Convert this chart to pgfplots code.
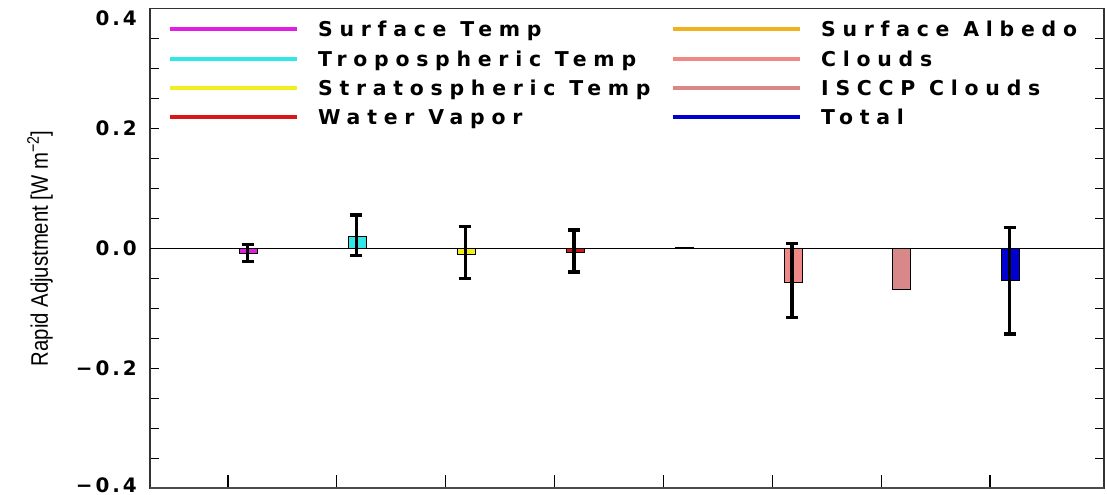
\documentclass[border=0pt]{standalone}
\usepackage{pgfplots}
\pgfplotsset{compat=1.18}
\usepackage{fontspec}
\usepackage{graphicx}
\setmainfont{DejaVu Sans}
\newfontfamily\legfont[LetterSpace=33]{DejaVu Sans}
\newfontfamily\tickfont[LetterSpace=15]{DejaVu Sans}
\newfontfamily\labfont{Liberation Sans}
\definecolor{cmag}{RGB}{224,32,224}
\definecolor{ccyan}{RGB}{48,232,232}
\definecolor{cyel}{RGB}{240,240,32}
\definecolor{cred}{RGB}{216,24,24}
\definecolor{corange}{RGB}{240,176,32}
\definecolor{cclouds}{RGB}{240,136,136}
\definecolor{cisccp}{RGB}{216,136,136}
\definecolor{ctotal}{RGB}{0,0,208}
\begin{document}
\begin{tikzpicture}
\begin{axis}[
  scale only axis, width=954bp, height=480bp,
  xmin=0.2835, xmax=9.047, ymin=-0.4, ymax=0.4,
  xtick={1,2,3,4,5,6,7,8}, xticklabels={}, xtick pos=left,
  xtick style={/pgfplots/major tick length=13bp},
  ytick={-0.4,-0.2,0,0.2,0.4},
  yticklabels={\raisebox{-4bp}[0pt][0pt]{−0.4},−0.2,0.0,0.2,\raisebox{-17bp}[0pt][0pt]{0.4}},
  minor y tick num=3, ytick pos=both, yticklabel pos=left,
  major tick length=9bp, minor tick length=9bp,
  tick style={black, line width=1.2bp},
  tick align=inside,
  yticklabel style={font=\tickfont\bfseries\fontsize{20}{21}\selectfont, inner xsep=0pt, xshift=-13bp},
  axis line style={line width=1.5bp, black!80},
  ylabel={\labfont\fontsize{24}{26}\selectfont\scalebox{0.85}[1]{Rapid Adjustment [W m\textsuperscript{−2}]}},
  every axis y label/.style={at={(axis description cs:-0.1153,0.5)}, rotate=90, anchor=center},
  legend columns=2,
  legend cell align=left,
  legend image code/.code={\draw[#1, line width=4bp] (0bp,0bp) -- (127bp,0bp);},
  legend style={draw=none, fill=none, at={(axis description cs:0,1)}, anchor=north west,
    xshift=18bp, yshift=-13.5bp, inner sep=0pt,
    font=\legfont\bfseries\fontsize{20.5}{22}\selectfont,
    nodes={inner sep=0pt, text height=15bp, text depth=0bp},
    /tikz/every odd column/.append style={column sep=19bp},
    /tikz/every even column/.append style={column sep=0bp},
    row sep=14.3bp},
]
\addplot[black, line width=1.2bp, forget plot] coordinates {(0.2835,0) (9.047,0)};
\addplot[ybar, bar shift=0pt, bar width=18bp, fill=cmag, draw=black, line width=0.8bp, forget plot] coordinates {(1.19,-0.009)};
\addplot[ybar, bar shift=0pt, bar width=18bp, fill=ccyan, draw=black, line width=0.8bp, forget plot] coordinates {(2.19,0.0205)};
\addplot[ybar, bar shift=0pt, bar width=18bp, fill=cyel, draw=black, line width=0.8bp, forget plot] coordinates {(3.19,-0.0095)};
\addplot[ybar, bar shift=0pt, bar width=18bp, fill=cred, draw=black, line width=0.8bp, forget plot] coordinates {(4.19,-0.0067)};
\addplot[ybar, bar shift=0pt, bar width=18bp, fill=corange, draw=black, line width=0.8bp, forget plot] coordinates {(5.19,0.002)};
\addplot[ybar, bar shift=0pt, bar width=18bp, fill=cclouds, draw=black, line width=0.8bp, forget plot] coordinates {(6.19,-0.0567)};
\addplot[ybar, bar shift=0pt, bar width=18bp, fill=cisccp, draw=black, line width=0.8bp, forget plot] coordinates {(7.19,-0.068)};
\addplot[ybar, bar shift=0pt, bar width=18bp, fill=ctotal, draw=black, line width=0.8bp, forget plot] coordinates {(8.19,-0.054)};
\addplot[forget plot, draw=none, mark=none,
  error bars/.cd, y dir=both, y explicit,
  error bar style={draw=black, solid, line width=3.5bp},
  error mark options={draw=black, solid, line width=3.5bp, mark size=6bp, rotate=90}]
  table[x=x, y=y, y error=e] {
x y e
1.18 -0.0077 0.0144
2.18 0.0216 0.0339
3.18 -0.0070 0.0430
4.18 -0.0043 0.0348
6.18 -0.0534 0.0617
8.18 -0.0540 0.0890
};
\draw[line width=3bp, black!70] (rel axis cs:0,0) -- (rel axis cs:1,0);
\addlegendimage{cmag}\addlegendentry{\makebox[353bp][l]{Surface Temp}}
\addlegendimage{corange}\addlegendentry{Surface Albedo}
\addlegendimage{ccyan}\addlegendentry{\makebox[353bp][l]{Tropospheric Temp}}
\addlegendimage{cclouds}\addlegendentry{Clouds}
\addlegendimage{cyel}\addlegendentry{\makebox[353bp][l]{Stratospheric Temp}}
\addlegendimage{cisccp}\addlegendentry{ISCCP Clouds}
\addlegendimage{cred}\addlegendentry{\makebox[353bp][l]{Water Vapor}}
\addlegendimage{ctotal}\addlegendentry{Total}
\end{axis}
\pgfresetboundingbox
\path (current axis.south west) +(-150bp,-6.7bp) (current axis.north east) +(3bp,8.3bp);
\end{tikzpicture}
\end{document}
